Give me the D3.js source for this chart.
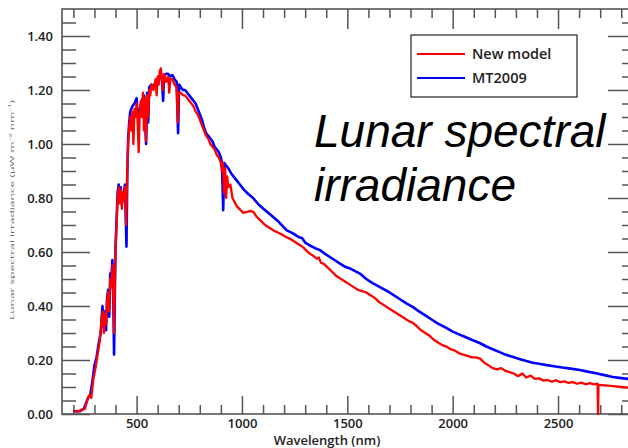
<!DOCTYPE html>
<html>
<head>
<meta charset="utf-8">
<script src="https://cdn.jsdelivr.net/npm/d3@7"></script>
<style>
  body { margin: 0; background: #fff; }
  svg { display: block; font-family: "Open Sans", sans-serif; }
</style>
</head>
<body>
<svg id="chart" width="628" height="448"></svg>
<script>
// chart values
var seriesNames = ['New model', 'MT2009'];
var seriesColors = ['#ff0000', '#0000ff'];
var xMajorTicks = [500, 1000, 1500, 2000, 2500];
var yMajorTicks = [0, 0.2, 0.4, 0.6, 0.8, 1.0, 1.2, 1.4];

// [wavelength nm, irradiance]
var newModel = [
  [200,0.01],[220,0.01],[240,0.015],[255,0.02],[265,0.05],[275,0.07],[285,0.06],[295,0.13],
  [305,0.17],[315,0.22],[325,0.27],[335,0.36],[340,0.38],[345,0.30],[350,0.37],[355,0.33],
  [360,0.42],[365,0.45],[370,0.38],[375,0.50],[380,0.47],[385,0.55],[390,0.42],[393,0.30],
  [397,0.50],[400,0.60],[405,0.70],[410,0.80],[415,0.84],[420,0.78],[425,0.83],[430,0.76],
  [435,0.82],[440,0.80],[445,0.84],[450,0.70],[455,0.88],[460,1.00],[465,1.06],[470,1.10],
  [475,1.05],[480,1.12],[485,1.00],[490,1.13],[495,1.10],[500,1.15],[505,1.08],[510,0.97],
  [515,1.12],[520,1.16],[525,1.10],[530,1.19],[535,1.05],[540,1.17],[545,1.01],[550,1.18],
  [555,1.10],[560,1.20],[565,1.18],[570,1.22],[580,1.20],[590,1.24],[595,1.18],[600,1.25],
  [605,1.22],[610,1.27],[615,1.28],[620,1.24],[625,1.20],[630,1.26],[640,1.23],[650,1.25],
  [655,1.19],[660,1.24],[670,1.24],[680,1.22],[690,1.21],[695,1.08],[700,1.19],[710,1.19],
  [720,1.18],[730,1.18],[740,1.17],[750,1.16],[760,1.15],[770,1.14],[780,1.12],[790,1.11],
  [800,1.09],[810,1.07],[820,1.05],[830,1.03],[840,1.02],[850,1.00],[860,0.99],[870,0.98],
  [880,0.96],[890,0.95],[900,0.93],[905,0.90],[910,0.93],[915,0.82],[920,0.91],[925,0.80],
  [930,0.88],[935,0.84],[945,0.85],[955,0.80],[965,0.785],[975,0.77],[990,0.758],[1005,0.745],
  [1020,0.748],[1040,0.752],[1055,0.748],[1070,0.73],[1090,0.715],[1110,0.70],[1130,0.69],[1150,0.68],
  [1170,0.672],[1190,0.665],[1210,0.655],[1230,0.648],[1250,0.638],[1270,0.628],[1290,0.618],
  [1305,0.606],[1320,0.595],[1340,0.585],[1355,0.575],[1365,0.58],[1375,0.56],[1390,0.555],
  [1410,0.54],[1430,0.525],[1450,0.51],[1470,0.50],[1490,0.49],[1510,0.48],[1530,0.47],
  [1550,0.46],[1570,0.455],[1590,0.45],[1610,0.44],[1630,0.43],[1650,0.415],[1670,0.405],
  [1700,0.39],[1730,0.375],[1760,0.36],[1790,0.345],[1810,0.338],[1830,0.325],[1850,0.31],
  [1870,0.30],[1890,0.29],[1910,0.275],[1930,0.265],[1950,0.255],[1970,0.25],[1990,0.24],
  [2010,0.235],[2030,0.225],[2050,0.22],[2070,0.215],[2090,0.21],[2110,0.21],[2130,0.205],
  [2150,0.19],[2170,0.18],[2190,0.17],[2210,0.165],[2230,0.17],[2250,0.16],[2270,0.155],
  [2290,0.15],[2310,0.14],[2330,0.15],[2350,0.135],[2370,0.142],[2390,0.13],[2410,0.132],
  [2430,0.124],[2450,0.126],[2470,0.12],[2490,0.125],[2510,0.118],[2530,0.121],[2550,0.115],
  [2570,0.118],[2590,0.112],[2610,0.116],[2630,0.11],[2650,0.114],[2670,0.11],[2688,0.112],
  [2690,0.0],[2692,0.108],[2750,0.104],[2800,0.10],[2870,0.095]
];

var mt2009 = [
  [200,0.01],[230,0.01],[250,0.02],[260,0.04],[270,0.06],[280,0.07],[290,0.12],[300,0.18],
  [310,0.21],[320,0.26],[330,0.30],[338,0.40],[345,0.32],[350,0.38],[355,0.31],[360,0.43],
  [365,0.46],[370,0.36],[375,0.52],[380,0.50],[385,0.57],[390,0.40],[393,0.22],[397,0.45],
  [400,0.62],[405,0.72],[410,0.82],[415,0.85],[420,0.80],[425,0.84],[430,0.78],[440,0.82],
  [445,0.85],[452,0.62],[456,0.90],[460,1.02],[465,1.08],[470,1.12],[480,1.14],[490,1.15],
  [500,1.17],[505,1.10],[515,1.13],[525,1.16],[535,1.18],[545,1.00],[550,1.19],[555,1.08],
  [560,1.21],[570,1.22],[580,1.21],[590,1.23],[600,1.24],[610,1.25],[620,1.24],[626,1.16],
  [630,1.25],[640,1.26],[650,1.26],[660,1.25],[670,1.255],[680,1.24],[690,1.23],[697,1.04],
  [702,1.22],[710,1.21],[720,1.20],[730,1.20],[740,1.19],[750,1.18],[760,1.17],[770,1.16],
  [780,1.15],[790,1.13],[800,1.11],[810,1.09],[820,1.06],[830,1.04],[840,1.03],[850,1.02],
  [860,1.01],[870,0.99],[880,0.98],[890,0.97],[900,0.95],[905,0.93],[911,0.755],[916,0.93],
  [925,0.92],[935,0.91],[950,0.89],[970,0.87],[990,0.85],[1010,0.83],[1030,0.815],[1053,0.80],
  [1080,0.775],[1110,0.755],[1140,0.735],[1170,0.715],[1200,0.69],[1213,0.68],[1240,0.67],
  [1270,0.655],[1285,0.652],[1300,0.635],[1320,0.625],[1345,0.615],[1370,0.607],[1400,0.59],
  [1430,0.575],[1460,0.56],[1490,0.545],[1510,0.54],[1528,0.533],[1560,0.52],[1590,0.50],
  [1620,0.485],[1655,0.47],[1690,0.455],[1720,0.44],[1750,0.425],[1780,0.41],[1812,0.396],
  [1840,0.38],[1870,0.365],[1900,0.35],[1930,0.335],[1972,0.318],[2000,0.305],[2030,0.295],
  [2060,0.285],[2090,0.275],[2128,0.263],[2160,0.25],[2190,0.24],[2220,0.23],[2250,0.22],
  [2287,0.211],[2320,0.203],[2350,0.196],[2380,0.19],[2410,0.186],[2446,0.181],[2480,0.177],
  [2520,0.172],[2560,0.168],[2604,0.163],[2640,0.157],[2680,0.151],[2720,0.144],[2760,0.137],
  [2800,0.133],[2870,0.127]
];

var svg = d3.select('#chart');
// plot frame (the right edge sits just past the window, as in the source figure)
var plotLeft = 62, plotRight = 636, plotTop = 9, plotBottom = 414;

var x = d3.scaleLinear().domain([146, 2870]).range([plotLeft, plotRight]);
var y = d3.scaleLinear().domain([0, 1.5]).range([plotBottom, plotTop]);

var xMinor = d3.range(2, 29).map(d => d * 100).filter(d => d % 500 !== 0);
var yMinor = d3.range(1, 30).filter(i => i % 4 !== 0).map(i => i * 0.05);

function styleAxis(g){
  g.select('.domain').remove();
  g.selectAll('line').attr('stroke', '#555').attr('stroke-width', 1.5);
  g.selectAll('text').attr('fill', '#222').attr('font-size', 13).attr('font-weight', 600)
    .attr('font-family', '"Open Sans", sans-serif');
}

// left axis
svg.append('g').attr('transform', 'translate(' + plotLeft + ',0)')
  .call(d3.axisLeft(y).tickValues(yMajorTicks).tickSize(-28).tickPadding(9).tickFormat(d3.format('.2f')))
  .call(styleAxis);
svg.append('g').attr('transform', 'translate(' + plotLeft + ',0)')
  .call(d3.axisLeft(y).tickValues(yMinor).tickSize(-14).tickFormat(''))
  .call(styleAxis);
// right axis
svg.append('g').attr('transform', 'translate(' + plotRight + ',0)')
  .call(d3.axisRight(y).tickValues(yMajorTicks).tickSize(-28).tickFormat(''))
  .call(styleAxis);
svg.append('g').attr('transform', 'translate(' + plotRight + ',0)')
  .call(d3.axisRight(y).tickValues(yMinor).tickSize(-14).tickFormat(''))
  .call(styleAxis);
// bottom axis
svg.append('g').attr('transform', 'translate(0,' + plotBottom + ')')
  .call(d3.axisBottom(x).tickValues(xMajorTicks).tickSize(-18).tickPadding(5).tickFormat(d3.format('d')))
  .call(styleAxis);
svg.append('g').attr('transform', 'translate(0,' + plotBottom + ')')
  .call(d3.axisBottom(x).tickValues(xMinor).tickSize(-9).tickFormat(''))
  .call(styleAxis);
// top axis
svg.append('g').attr('transform', 'translate(0,' + plotTop + ')')
  .call(d3.axisTop(x).tickValues(xMajorTicks).tickSize(-20).tickFormat(''))
  .call(styleAxis);
svg.append('g').attr('transform', 'translate(0,' + plotTop + ')')
  .call(d3.axisTop(x).tickValues(xMinor).tickSize(-9).tickFormat(''))
  .call(styleAxis);

svg.append('rect')
  .attr('x', plotLeft).attr('y', plotTop)
  .attr('width', plotRight - plotLeft).attr('height', plotBottom - plotTop)
  .attr('fill', 'none').attr('stroke', '#555').attr('stroke-width', 1.6);

// spectra
var line = d3.line().x(d => x(d[0])).y(d => y(d[1]));
svg.append('path').datum(mt2009)
  .attr('d', line).attr('fill', 'none')
  .attr('stroke', seriesColors[1]).attr('stroke-width', 2.6).attr('stroke-linejoin', 'round');
svg.append('path').datum(newModel)
  .attr('d', line).attr('fill', 'none')
  .attr('stroke', seriesColors[0]).attr('stroke-width', 2.3).attr('stroke-linejoin', 'round');

// axis titles
svg.append('text')
  .attr('x', 327).attr('y', 445)
  .attr('text-anchor', 'middle')
  .attr('font-size', 13).attr('font-weight', 600).attr('fill', '#222')
  .text('Wavelength (nm)');

svg.append('text')
  .attr('transform', 'translate(14,210) rotate(-90)')
  .attr('text-anchor', 'middle')
  .attr('font-size', 6).attr('fill', '#666')
  .attr('textLength', 220).attr('lengthAdjust', 'spacingAndGlyphs')
  .text('Lunar spectral irradiance (μW m⁻² nm⁻¹)');

// legend
var legend = svg.append('g').attr('transform', 'translate(411,35)');
legend.append('rect')
  .attr('width', 166).attr('height', 62)
  .attr('fill', '#fff').attr('stroke', '#333').attr('stroke-width', 1.3);
seriesNames.forEach(function(name, i){
  var ly = 19 + i * 24;
  legend.append('line')
    .attr('x1', 6).attr('x2', 54).attr('y1', ly).attr('y2', ly)
    .attr('stroke', seriesColors[i]).attr('stroke-width', 2.2);
  legend.append('text')
    .attr('x', 61).attr('y', ly + 5)
    .attr('font-size', 14.5).attr('font-weight', 600).attr('fill', '#222')
    .text(name);
});

// big caption
var caption = svg.append('text')
  .attr('font-family', '"Liberation Sans", Arial, sans-serif')
  .attr('font-style', 'italic').attr('font-size', 46).attr('fill', '#000');
caption.append('tspan').attr('x', 314).attr('y', 147).text('Lunar spectral');
caption.append('tspan').attr('x', 314).attr('y', 201).text('irradiance');
</script>
</body>
</html>
